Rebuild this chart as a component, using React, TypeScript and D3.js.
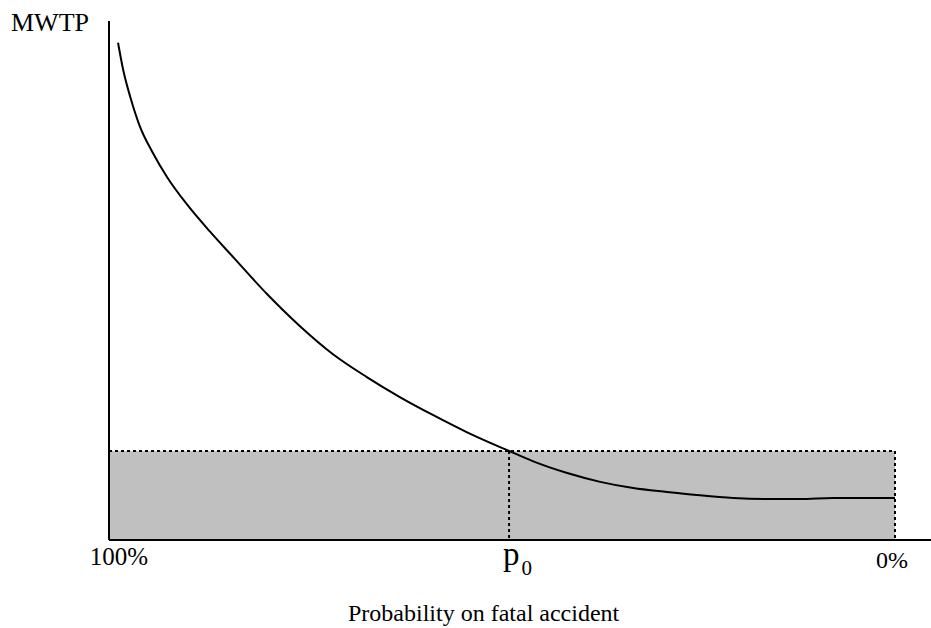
import { useRef, useEffect } from 'react'
import * as d3 from 'd3'

// probability (%) on x, MWTP (arbitrary units) on y
const probs = [98.85, 98.2, 97.3, 96.1, 94.5, 92.6, 90.1, 87.2, 84.2, 79.9, 75.7, 71.5, 67.2, 63.0, 58.8, 54.5, 49.1, 46.1, 41.7, 37.5, 33.3, 29.0, 24.8, 20.6, 16.3, 12.1, 7.9, 0]
const mwtp = [95.8, 90.6, 85.4, 79.8, 74.8, 69.9, 64.7, 59.5, 54.5, 47.4, 41.2, 35.8, 31.4, 27.55, 24.1, 20.8, 17.15, 15.2, 12.9, 11.2, 10.0, 9.25, 8.6, 8.1, 7.9, 7.9, 8.1, 8.1]
const p0 = 49.1
const mwtpAtP0 = 17.15
const xTickLabels = ['100%', '0%']

export default function App() {
  const svgRef = useRef<SVGSVGElement>(null)

  useEffect(() => {
    if (!svgRef.current) return
    const svg = d3.select(svgRef.current)
    svg.selectAll('*').remove()

    const width = 931
    const height = 628
    const x = d3.scaleLinear().domain([100, 0]).range([109, 895])
    const y = d3.scaleLinear().domain([0, 100]).range([540, 21])
    const font = 'Liberation Serif'

    svg.attr('width', width).attr('height', height)

    // shaded area up to MWTP at p0
    svg.append('rect')
      .attr('x', x(100))
      .attr('y', y(mwtpAtP0))
      .attr('width', x(0) - x(100))
      .attr('height', y(0) - y(mwtpAtP0))
      .attr('fill', '#c0c0c0')

    // dotted outline
    svg.append('path')
      .attr('d', `M${x(100)},${y(mwtpAtP0)}H${x(0)}V${y(0)}`)
      .attr('fill', 'none')
      .attr('stroke', '#000')
      .attr('stroke-width', 2)
      .attr('stroke-dasharray', '3,3')
    svg.append('line')
      .attr('x1', x(p0)).attr('x2', x(p0))
      .attr('y1', y(mwtpAtP0)).attr('y2', y(0))
      .attr('stroke', '#000')
      .attr('stroke-width', 2)
      .attr('stroke-dasharray', '3,3')

    // axes
    svg.append('line')
      .attr('x1', x(100)).attr('x2', width)
      .attr('y1', y(0)).attr('y2', y(0))
      .attr('stroke', '#000').attr('stroke-width', 2)
    svg.append('line')
      .attr('x1', x(100)).attr('x2', x(100))
      .attr('y1', y(0)).attr('y2', y(100))
      .attr('stroke', '#000').attr('stroke-width', 2)

    // curve
    const line = d3.line<number>()
      .x((_, i) => x(probs[i]))
      .y((d) => y(d))
      .curve(d3.curveMonotoneX)
    svg.append('path')
      .datum(mwtp)
      .attr('fill', 'none')
      .attr('stroke', '#000')
      .attr('stroke-width', 2)
      .attr('d', line)

    // labels
    svg.append('text')
      .attr('x', 11).attr('y', 31)
      .attr('font-family', font).attr('font-size', 26)
      .text('MWTP')
    svg.append('text')
      .attr('x', 119).attr('y', 565)
      .attr('text-anchor', 'middle')
      .attr('font-family', font).attr('font-size', 25)
      .text(xTickLabels[0])
    svg.append('text')
      .attr('x', 892).attr('y', 568)
      .attr('text-anchor', 'middle')
      .attr('font-family', font).attr('font-size', 24)
      .text(xTickLabels[1])
    const pl = svg.append('text')
      .attr('x', x(p0) - 6).attr('y', 565)
      .attr('font-family', font).attr('font-size', 33)
    pl.append('tspan').text('p')
    pl.append('tspan').attr('dx', 2).attr('dy', 10).attr('font-size', 21).text('0')
    svg.append('text')
      .attr('x', 348).attr('y', 621)
      .attr('font-family', font).attr('font-size', 24)
      .text('Probability on fatal accident')
  }, [])

  return <svg ref={svgRef} style={{ position: 'absolute', left: 0, top: 0 }} />
}
